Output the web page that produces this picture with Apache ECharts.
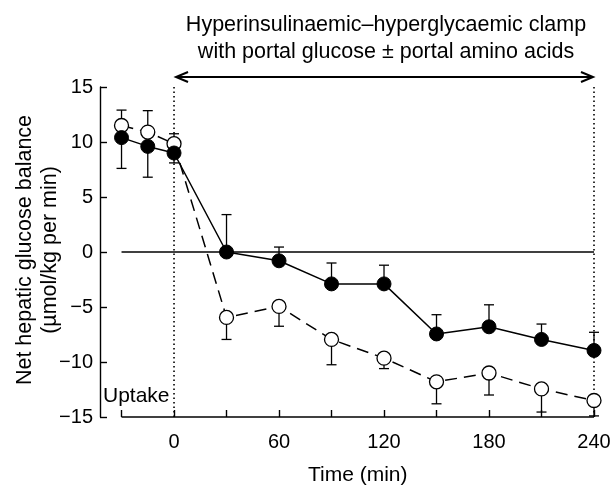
<!DOCTYPE html>
<html><head><meta charset="utf-8">
<script src="https://cdn.jsdelivr.net/npm/echarts@6/dist/echarts.min.js"></script>
<style>html,body{margin:0;padding:0;background:#fff}#c{width:613px;height:485px}</style>
</head><body><div id="c"></div>
<script>
// Data
const times = [-30, -15, 0, 30, 60, 90, 120, 150, 180, 210, 240];
const glucoseAA = [10.4, 9.6, 9.0, 0, -0.8, -2.9, -2.9, -7.45, -6.8, -7.95, -8.95];   // filled circles
const glucoseAAErrEnd = [7.6, 6.8, 8.1, 3.4, 0.45, -1.0, -1.2, -5.7, -4.8, -6.55, -7.3];
const glucoseOnly = [11.5, 10.9, 9.85, -5.95, -4.95, -7.95, -9.65, -11.8, -11.0, -12.45, -13.5]; // open circles
const glucoseOnlyErrEnd = [12.9, 12.85, 10.75, -7.95, -6.75, -10.25, -10.6, -13.8, -13.0, -14.55, -14.9];
const xTickValues = [-30, 0, 30, 60, 90, 120, 150, 180, 210, 240];
const xLabelValues = [0, 60, 120, 180, 240];

const FONT = 'Liberation Sans, Arial, Helvetica, sans-serif';
const chart = echarts.init(document.getElementById('c'), null, {renderer: 'canvas'});
const minus = v => String(v).replace('-', '\u2212');

function errSeries(vals, ends) {
  return {
    type: 'custom', silent: true, clip: false, z: 1,
    data: times.map((t, i) => [t, vals[i], ends[i]]),
    encode: {x: 0, y: [1, 2]},
    renderItem(params, api) {
      const x = api.value(0), c = api.value(1), e = api.value(2);
      const p0 = api.coord([x, c]), p1 = api.coord([x, e]);
      const st = {stroke: '#000', lineWidth: 1.3};
      return {type: 'group', children: [
        {type: 'line', shape: {x1: p0[0], y1: p0[1], x2: p1[0], y2: p1[1]}, style: st},
        {type: 'line', shape: {x1: p1[0] - 5, y1: p1[1], x2: p1[0] + 5, y2: p1[1]}, style: st}
      ]};
    }
  };
}
function refLine(data, type) {
  return {type: 'line', data, symbol: 'none', silent: true, clip: false, z: 0,
    lineStyle: {color: '#000', width: type === 'dotted' ? 1.6 : 1.4, type: type === 'dotted' ? [1.5, 3] : 'solid'}};
}

chart.setOption({
  animation: false,
  grid: {left: 100, right: 19, top: 87, bottom: 68, outerBoundsMode: 'none', containLabel: false},
  xAxis: {
    type: 'value', min: -42.3, max: 240,
    axisLine: {show: false, onZero: false},
    splitLine: {show: false},
    axisTick: {inside: true, length: 7, customValues: xTickValues, lineStyle: {color: '#000', width: 1.4}},
    axisLabel: {customValues: xLabelValues, margin: 15, color: '#000', fontSize: 20, fontFamily: FONT}
  },
  yAxis: {
    type: 'value', min: -15, max: 15, interval: 5,
    axisLine: {show: true, onZero: false, lineStyle: {color: '#000', width: 1.4}},
    splitLine: {show: false},
    axisTick: {inside: true, length: 7, lineStyle: {color: '#000', width: 1.4}},
    axisLabel: {margin: 7, color: '#000', fontSize: 20, fontFamily: FONT, formatter: minus}
  },
  series: [
    refLine([[-30, 0], [240, 0]], 'solid'),
    refLine([[-30, -15], [240, -15]], 'solid'),
    refLine([[0, 15], [0, -15]], 'dotted'),
    refLine([[240, 15], [240, -15]], 'dotted'),
    errSeries(glucoseAA, glucoseAAErrEnd),
    errSeries(glucoseOnly, glucoseOnlyErrEnd),
    {type: 'line', data: times.map((t, i) => [t, glucoseOnly[i]]), z: 3,
      symbol: 'circle', symbolSize: 14,
      lineStyle: {color: '#000', width: 1.5, type: [12, 7]},
      itemStyle: {color: '#fff', borderColor: '#000', borderWidth: 1.3}},
    {type: 'line', data: times.map((t, i) => [t, glucoseAA[i]]), z: 4,
      symbol: 'circle', symbolSize: 14,
      lineStyle: {color: '#000', width: 1.5},
      itemStyle: {color: '#000', borderColor: '#000', borderWidth: 1}}
  ]
});

const pL = chart.convertToPixel({xAxisIndex: 0, yAxisIndex: 0}, [0, 15]);
const pR = chart.convertToPixel({xAxisIndex: 0, yAxisIndex: 0}, [240, 15]);
const pB = chart.convertToPixel({xAxisIndex: 0, yAxisIndex: 0}, [105, -15]);
const pY = chart.convertToPixel({xAxisIndex: 0, yAxisIndex: 0}, [-42.3, -15]);
const pM = chart.convertToPixel({xAxisIndex: 0, yAxisIndex: 0}, [-42.3, 0]);
const ay = pL[1] - 10;
const midX = (pL[0] + pR[0]) / 2 + 2;
chart.setOption({
  graphic: [
    {type: 'line', shape: {x1: pL[0] + 2, y1: ay, x2: pR[0] - 1, y2: ay}, style: {stroke: '#000', lineWidth: 2}},
    {type: 'polyline', shape: {points: [[pL[0] + 14, ay - 5], [pL[0] + 2, ay], [pL[0] + 14, ay + 5]]}, style: {stroke: '#000', lineWidth: 2, fill: null}},
    {type: 'polyline', shape: {points: [[pR[0] - 13, ay - 5], [pR[0] - 1, ay], [pR[0] - 13, ay + 5]]}, style: {stroke: '#000', lineWidth: 2, fill: null}},
    {type: 'text', x: midX, y: 25, style: {text: 'Hyperinsulinaemic\u2013hyperglycaemic clamp', font: '21.5px ' + FONT, fill: '#000', align: 'center', verticalAlign: 'middle'}},
    {type: 'text', x: midX, y: 52, style: {text: 'with portal glucose \u00b1 portal amino acids', font: '21.5px ' + FONT, fill: '#000', align: 'center', verticalAlign: 'middle'}},
    {type: 'text', x: pB[0], y: 475, style: {text: 'Time (min)', font: '21px ' + FONT, fill: '#000', align: 'center', verticalAlign: 'middle'}},
    {type: 'text', x: pY[0] + 3, y: 396, style: {text: 'Uptake', font: '21px ' + FONT, fill: '#000', align: 'left', verticalAlign: 'middle'}},
    {type: 'text', x: 37.5, y: pM[1] - 2, rotation: Math.PI / 2,
      style: {text: 'Net hepatic glucose balance\n(\u00b5mol/kg per min)', font: '21.5px ' + FONT, lineHeight: 25, fill: '#000', align: 'center', verticalAlign: 'middle'}}
  ]
});
</script>
</body></html>
